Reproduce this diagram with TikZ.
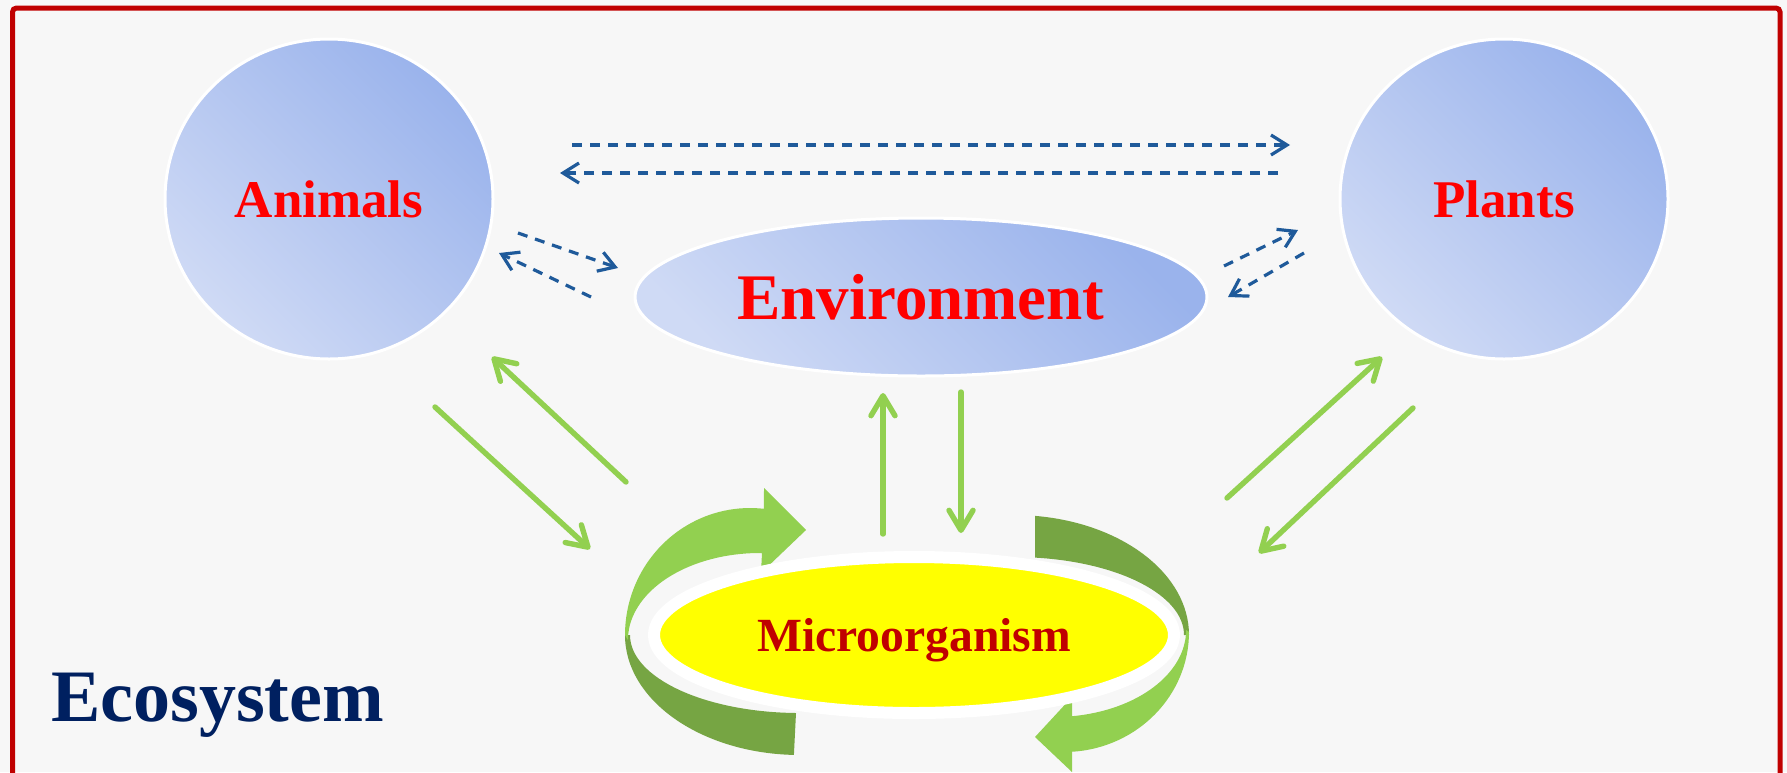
\documentclass[tikz,border=0pt]{standalone}
\usepackage{fontspec}
\setmainfont{Liberation Serif}
\usetikzlibrary{arrows.meta, shapes.geometric, positioning}

\definecolor{framered}{HTML}{C00000}
\definecolor{labelred}{HTML}{FF0000}
\definecolor{ecoblue}{HTML}{002060}
\definecolor{leafgreen}{HTML}{92D050}
\definecolor{mossgreen}{HTML}{76A543}
\definecolor{dashblue}{HTML}{1F5A9A}
\definecolor{skylight}{HTML}{CFDAF5}
\definecolor{skydark}{HTML}{9AB3EC}
\definecolor{paper}{HTML}{F7F7F7}
\definecolor{sunyellow}{RGB}{255,255,0}

\begin{document}
\begin{tikzpicture}[x=0.5pt, y=-0.5pt, node distance=587.5pt]
    \tikzstyle{bubble} = [ellipse, draw=white, line width=1.5pt, minimum width=164pt, minimum height=160pt, top color=skydark, bottom color=skylight, shading angle=-45, text=labelred, font=\bfseries\fontsize{26.5}{30}\selectfont]
    \tikzstyle{oval} = [bubble, minimum width=286pt, minimum height=79pt, font=\bfseries\fontsize{32.5}{36}\selectfont]
    \tikzstyle{core} = [ellipse, fill=sunyellow, draw=white, line width=6pt, minimum width=260pt, minimum height=78pt, text=framered, text depth=0pt, font=\bfseries\fontsize{23.8}{28}\selectfont]
    \tikzstyle{flow} = [-{Straight Barb[length=10pt, width=12pt, round]}, leafgreen, line width=2.7pt, line cap=round]
    \tikzstyle{swap} = [-{Straight Barb[length=8pt, width=10pt]}, dashblue, line width=1.6pt, dash pattern=on 5pt off 4pt]

    % backdrop and frame
    \clip (0,0) rectangle (1787,772);
    \fill[paper] (0,0) rectangle (1787,772);
    \draw[framered, line width=2.5pt, rounded corners=2pt] (12.5,8) rectangle (1780,800);

    % turning arrows round the microorganism
    \fill[mossgreen] (625,635) arc[start angle=180, end angle=92, x radius=175, y radius=120]
        -- (796,713) arc[start angle=91.35, end angle=180, x radius=170, y radius=78] -- cycle;
    \fill[mossgreen] (1189,635) arc[start angle=0, end angle=-83.1, x radius=175, y radius=120]
        -- (1035,557.6) arc[start angle=-82.9, end angle=0, x radius=170, y radius=78] -- cycle;
    \fill[leafgreen] (625,635) arc[start angle=180, end angle=276.4, x radius=125, y radius=127]
        -- (764,488) -- (806,530) -- (761,573) -- (762,553)
        arc[start angle=270.9, end angle=180, x radius=132, y radius=87] -- cycle;
    \fill[leafgreen] (1189,632) arc[start angle=0, end angle=86.3, x radius=125, y radius=120]
        -- (1072,772) -- (1035,737) -- (1072,697) -- (1072,716.2)
        arc[start angle=82.2, end angle=0, x radius=132, y radius=87] -- cycle;

    \path
        node[bubble] (animals) at (329,199) {Animals}
        node[bubble, right of=animals] (plants) {Plants}
        node[oval] (env) at (921,297) {Environment}
        node[core] (micro) at (914,635) {Microorganism};

    \node[anchor=base west, text=ecoblue, font=\bfseries\fontsize{37}{40}\selectfont] (eco) at (44,721) {Ecosystem};

    % link ends
    \coordinate (am1) at (435,407);  \coordinate (am2) at (590,549);
    \coordinate (ma1) at (626,482);  \coordinate (ma2) at (492,357);
    \coordinate (me1) at (883,534);  \coordinate (me2) at (883,393);
    \coordinate (em1) at (961,392);  \coordinate (em2) at (961,533);
    \coordinate (mp1) at (1227,498); \coordinate (mp2) at (1382,357);
    \coordinate (pm1) at (1413,408); \coordinate (pm2) at (1259,553);

    \coordinate (ap1) at (572,145);  \coordinate (ap2) at (1290,145);
    \coordinate (pa1) at (1278,173); \coordinate (pa2) at (560,173);
    \coordinate (ae1) at (518,233);  \coordinate (ae2) at (618,268);
    \coordinate (ea1) at (591,297);  \coordinate (ea2) at (499,253);
    \coordinate (ep1) at (1224,266); \coordinate (ep2) at (1298,230);
    \coordinate (pe1) at (1304,253); \coordinate (pe2) at (1228,297);

    \path[flow]
        (am1) edge (am2)
        (ma1) edge (ma2)
        (me1) edge (me2)
        (em1) edge (em2)
        (mp1) edge (mp2)
        (pm1) edge (pm2);

    \path[swap]
        (ap1) edge (ap2)
        (pa1) edge (pa2)
        (ae1) edge (ae2)
        (ea1) edge (ea2)
        (ep1) edge (ep2)
        (pe1) edge (pe2);
\end{tikzpicture}
\end{document}
